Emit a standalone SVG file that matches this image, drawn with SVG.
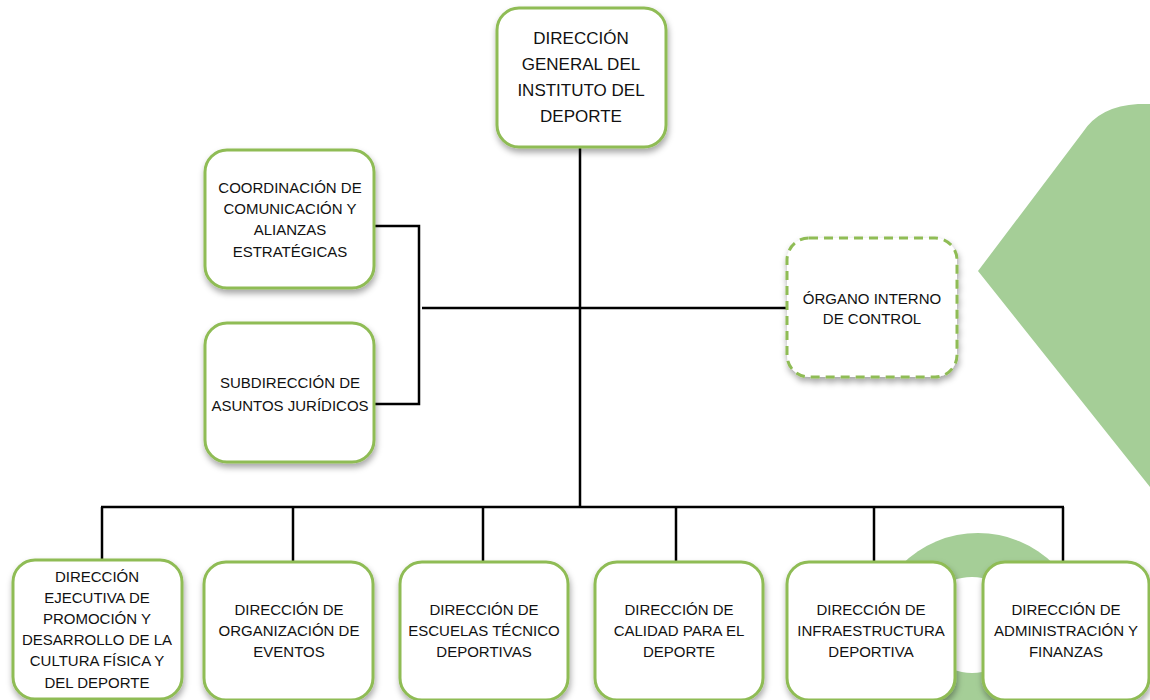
<svg xmlns="http://www.w3.org/2000/svg" width="1150" height="700" viewBox="0 0 1150 700">
<defs>
<filter id="sh" x="-20%" y="-20%" width="140%" height="140%">
<feDropShadow dx="1" dy="4" stdDeviation="3" flood-color="#000" flood-opacity="0.35"/>
</filter>
</defs>
<style>
.box{fill:#fff;stroke:#8fbc55;stroke-width:3;filter:url(#sh)}
.dash{stroke-dasharray:9 6}
.t{font-family:"Liberation Sans",Arial,sans-serif;font-size:15px;fill:#111;text-anchor:middle}
.tb{font-size:17px}
.ln{fill:none;stroke:#000;stroke-width:2.5}
.bg{fill:#a5ce97}
</style>
<rect width="1150" height="700" fill="#fff"/>
<g id="background">
<path class="bg" d="M978 271 L1083 132 Q1100 106 1138 104 L1150 104 L1150 487 Z"/>
<circle class="bg" cx="978" cy="641" r="108"/>
<ellipse cx="972" cy="625" rx="52" ry="48" fill="#fff"/>
</g>
<g id="connectors">
<line class="ln" x1="580" y1="147" x2="580" y2="507"/>
<line class="ln" x1="422" y1="308" x2="787" y2="308"/>
<polyline class="ln" points="375,226 419,226 419,404 375,404"/>
<line class="ln" x1="101" y1="507" x2="1064" y2="507"/>
<line class="ln" x1="102" y1="507" x2="102" y2="560"/>
<line class="ln" x1="293" y1="507" x2="293" y2="562"/>
<line class="ln" x1="483" y1="507" x2="483" y2="562"/>
<line class="ln" x1="676" y1="507" x2="676" y2="562"/>
<line class="ln" x1="874" y1="507" x2="874" y2="562"/>
<line class="ln" x1="1063" y1="507" x2="1063" y2="562"/>
</g>
<g id="n-general">
<rect class="box" x="497" y="8" width="169" height="139" rx="22"/>
<text class="t tb" x="581" y="44">DIRECCIÓN</text>
<text class="t tb" x="581" y="70">GENERAL DEL</text>
<text class="t tb" x="581" y="96">INSTITUTO DEL</text>
<text class="t tb" x="581" y="122">DEPORTE</text>
</g>
<g id="n-coordinacion">
<rect class="box" x="205" y="150" width="169" height="138" rx="22"/>
<text class="t" x="290" y="193">COORDINACIÓN DE</text>
<text class="t" x="290" y="214">COMUNICACIÓN Y</text>
<text class="t" x="290" y="235">ALIANZAS</text>
<text class="t" x="290" y="257">ESTRATÉGICAS</text>
</g>
<g id="n-juridicos">
<rect class="box" x="205" y="323" width="169" height="139" rx="22"/>
<text class="t" x="290" y="388">SUBDIRECCIÓN DE</text>
<text class="t" x="290" y="411">ASUNTOS JURÍDICOS</text>
</g>
<g id="n-organo">
<rect class="box dash" x="787" y="238" width="170" height="139" rx="22"/>
<text class="t" x="872" y="304">ÓRGANO INTERNO</text>
<text class="t" x="872" y="324">DE CONTROL</text>
</g>
<g id="n-promocion">
<rect class="box" x="13" y="560" width="169" height="139" rx="22"/>
<text class="t" x="97" y="582">DIRECCIÓN</text>
<text class="t" x="97" y="603">EJECUTIVA DE</text>
<text class="t" x="97" y="624">PROMOCIÓN Y</text>
<text class="t" x="97" y="645">DESARROLLO DE LA</text>
<text class="t" x="97" y="666">CULTURA FÍSICA Y</text>
<text class="t" x="97" y="688">DEL DEPORTE</text>
</g>
<g id="n-eventos">
<rect class="box" x="204" y="562" width="169" height="138" rx="22"/>
<text class="t" x="289" y="615">DIRECCIÓN DE</text>
<text class="t" x="289" y="636">ORGANIZACIÓN DE</text>
<text class="t" x="289" y="657">EVENTOS</text>
</g>
<g id="n-escuelas">
<rect class="box" x="400" y="562" width="168" height="138" rx="22"/>
<text class="t" x="484" y="615">DIRECCIÓN DE</text>
<text class="t" x="484" y="636">ESCUELAS TÉCNICO</text>
<text class="t" x="484" y="657">DEPORTIVAS</text>
</g>
<g id="n-calidad">
<rect class="box" x="595" y="562" width="168" height="138" rx="22"/>
<text class="t" x="679" y="615">DIRECCIÓN DE</text>
<text class="t" x="679" y="636">CALIDAD PARA EL</text>
<text class="t" x="679" y="657">DEPORTE</text>
</g>
<g id="n-infraestructura">
<rect class="box" x="787" y="562" width="168" height="138" rx="22"/>
<text class="t" x="871" y="615">DIRECCIÓN DE</text>
<text class="t" x="871" y="636">INFRAESTRUCTURA</text>
<text class="t" x="871" y="657">DEPORTIVA</text>
</g>
<g id="n-finanzas">
<rect class="box" x="983" y="562" width="166" height="138" rx="22"/>
<text class="t" x="1066" y="615">DIRECCIÓN DE</text>
<text class="t" x="1066" y="636">ADMINISTRACIÓN Y</text>
<text class="t" x="1066" y="657">FINANZAS</text>
</g>
</svg>
